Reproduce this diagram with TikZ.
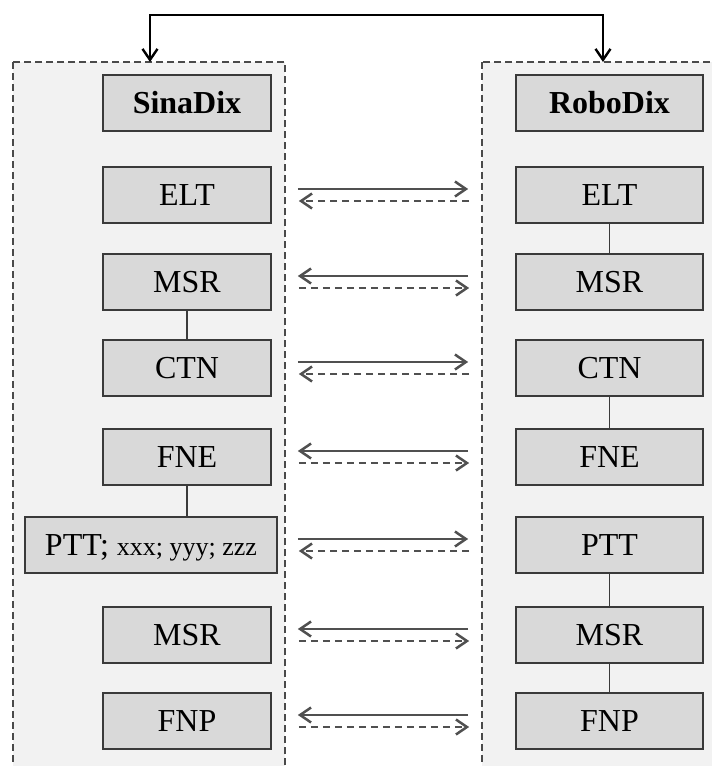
\documentclass[tikz,border=0pt]{standalone}
\usepackage{fontspec}
\setmainfont{Liberation Serif}
\usetikzlibrary{arrows.meta}
\definecolor{panelfill}{HTML}{F2F2F2}
\definecolor{dashgray}{HTML}{4A4A4A}
\definecolor{boxfill}{HTML}{D9D9D9}
\definecolor{boxline}{HTML}{3A3A3A}
\definecolor{arrowgray}{HTML}{505050}
\begin{document}
\begin{tikzpicture}[x=1pt,y=-1pt,
  panel/.style={draw=dashgray, fill=panelfill, line width=2.4pt, dash pattern=on 7pt off 4pt},
  unit/.style={draw=boxline, fill=boxfill, line width=1.7pt, minimum height=56pt,
    inner sep=0pt, font=\fontsize{32}{36}\selectfont, text height=21pt, text depth=0pt},
  lunit/.style={unit, minimum width=168pt},
  runit/.style={unit, minimum width=187pt},
  link/.style={draw=boxline, line width=1.3pt},
  barb/.tip={Straight Barb[length=11pt,width=15pt]},
  fwd/.style={draw=arrowgray, line width=2.5pt, -barb},
  bwd/.style={fwd, dash pattern=on 7pt off 5pt},
  sync/.style={draw=black, line width=2.4pt, barb-barb},
]
\useasboundingbox (0,0) rectangle (712,766);

% the two system panels, running past the lower and right edges
\begin{scope}
  \clip (0,0) rectangle (712,766);
  \draw[panel] (13,62) rectangle (285,800);
  \draw[panel] (482,62) rectangle (760,800);
\end{scope}

% SinaDix side
\node[lunit] (sinaL) at (187,103) {\textbf{SinaDix}};
\node[lunit] (eltL)  at (187,195) {ELT};
\node[lunit] (msrL)  at (187,282) {MSR};
\node[lunit] (ctnL)  at (187,368) {CTN};
\node[lunit] (fneL)  at (187,457) {FNE};
\node[unit, minimum width=252pt] (pttL) at (151,545)
  {PTT; {\fontsize{26}{30}\selectfont xxx; yyy; zzz}};
\node[lunit] (msrbL) at (187,635) {MSR};
\node[lunit] (fnpL)  at (187,721) {FNP};

% RoboDix side
\node[runit] (roboR) at (609.5,103) {\textbf{RoboDix}};
\node[runit] (eltR)  at (609.5,195) {ELT};
\node[runit] (msrR)  at (609.5,282) {MSR};
\node[runit] (ctnR)  at (609.5,368) {CTN};
\node[runit] (fneR)  at (609.5,457) {FNE};
\node[runit] (pttR)  at (609.5,545) {PTT};
\node[runit] (msrbR) at (609.5,635) {MSR};
\node[runit] (fnpR)  at (609.5,721) {FNP};

% links inside each panel
\draw[link] (msrL.south) -- (ctnL.north);
\draw[link] (fneL.south) -- (fneL.south |- pttL.north);
\draw[link] (eltR.south) -- (msrR.north);
\draw[link] (ctnR.south) -- (fneR.north);
\draw[link] (pttR.south) -- (msrbR.north);
\draw[link] (msrbR.south) -- (fnpR.north);

% top link between the two panels
\coordinate (lpanel) at (150,62);
\coordinate (rpanel) at (603,62);
\coordinate (topbar) at (376,15);
\draw[sync] (lpanel) |- (topbar) -| (rpanel);

% exchange arrows: solid line on top, dashed line below
\foreach \a/\b/\g in {eltL/eltR/26, ctnL/ctnR/26, pttL/pttR/20} {
  \draw[fwd] ([xshift=\g pt,yshift=6pt]\a.east) -- ([xshift=-47pt,yshift=6pt]\b.west);
  \draw[bwd] ([xshift=-46pt,yshift=-6pt]\b.west) -- ([xshift=\g pt+1pt,yshift=-6pt]\a.east);
}
\foreach \a/\b in {msrL/msrR, fneL/fneR, msrbL/msrbR, fnpL/fnpR} {
  \draw[fwd] ([xshift=-47pt,yshift=6pt]\b.west) -- ([xshift=26pt,yshift=6pt]\a.east);
  \draw[bwd] ([xshift=27pt,yshift=-6pt]\a.east) -- ([xshift=-46pt,yshift=-6pt]\b.west);
}
\end{tikzpicture}
\end{document}
